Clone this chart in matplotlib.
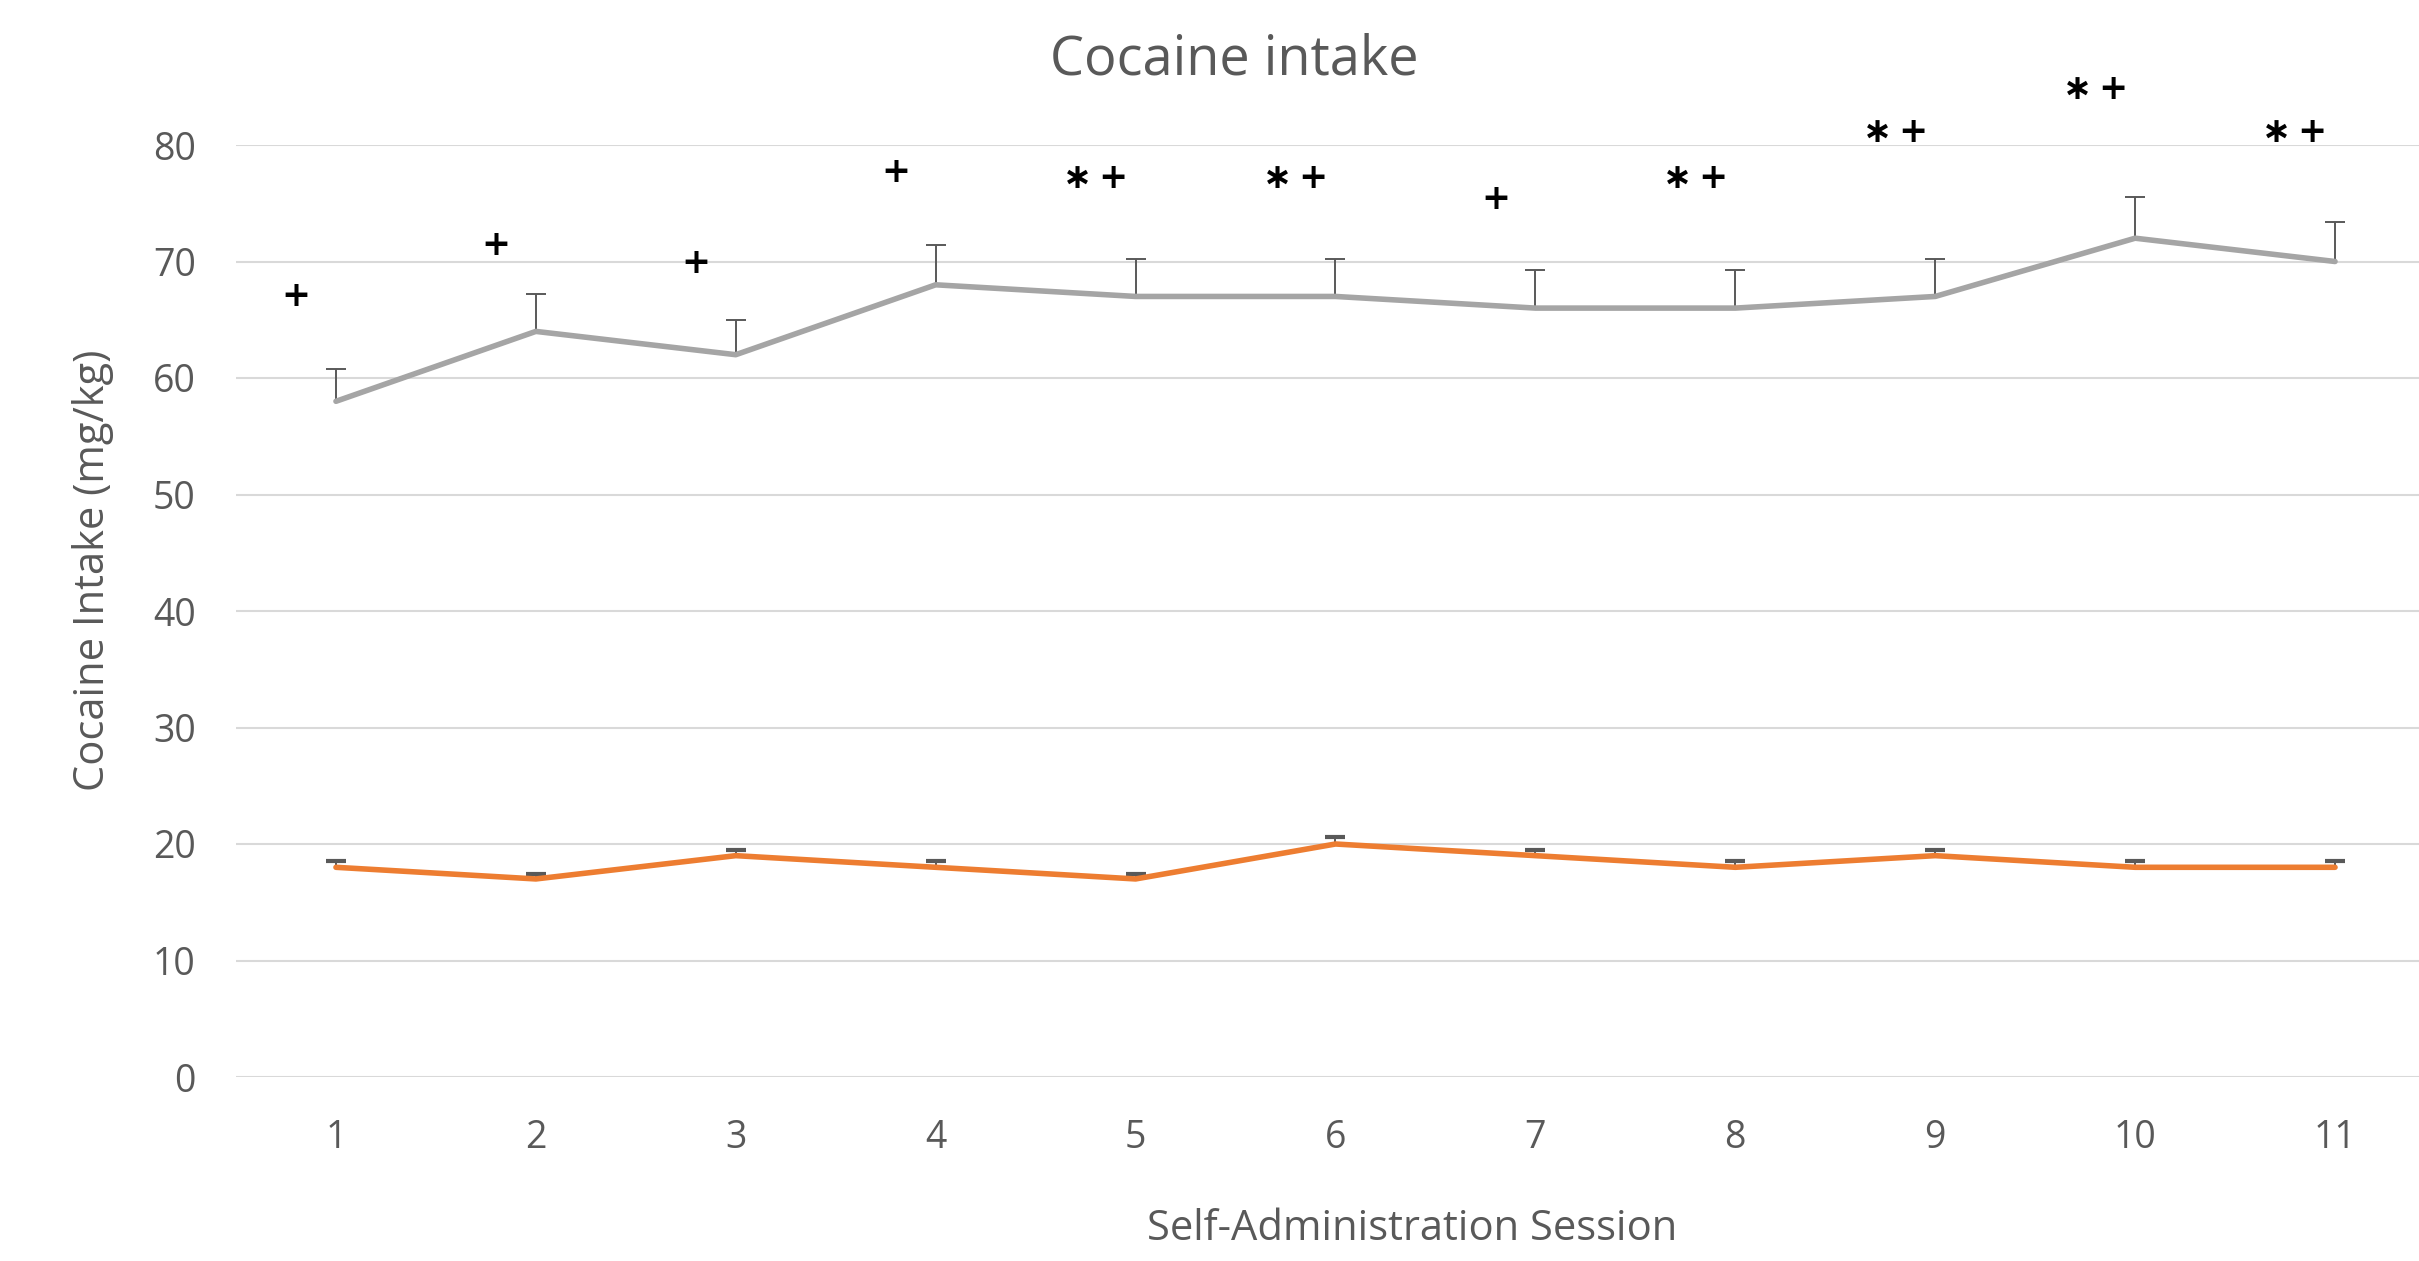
import matplotlib.pyplot as plt

# Data
sessions = [1, 2, 3, 4, 5, 6, 7, 8, 9, 10, 11]
gray_mean = [58, 64, 62, 68, 67, 67, 66, 66, 67, 72, 70]
gray_err = [2.8, 3.2, 3.0, 3.4, 3.2, 3.2, 3.3, 3.3, 3.2, 3.5, 3.4]
orange_mean = [18, 17, 19, 18, 17, 20, 19, 18, 19, 18, 18]
orange_err = [0.5, 0.4, 0.5, 0.5, 0.4, 0.6, 0.5, 0.5, 0.5, 0.5, 0.5]

# significance marks above each session
sig_labels = ["+", "+", "+", "+", "\u2217\u2009+", "\u2217\u2009+", "+",
              "\u2217\u2009+", "\u2217\u2009+", "\u2217\u2009+", "\u2217\u2009+"]
sig_y = [67.0, 71.4, 69.9, 77.7, 77.2, 77.2, 75.4, 77.2, 81.1, 84.8, 81.1]

W, H = 2419, 1261
fig = plt.figure(figsize=(W / 100, H / 100), dpi=100)
ax = fig.add_axes([236 / W, (H - 1077) / H, (W - 236) / W, (1077 - 145) / H])

font = "Open Sans"
text_color = "#595959"

for mean, err, col, ct in [(gray_mean, gray_err, "#A5A5A5", 1.4),
                           (orange_mean, orange_err, "#ED7D31", 3)]:
    line, caps, bars = ax.errorbar(sessions, mean, yerr=[[0] * 11, err], color=col,
                                   lw=4.0, ecolor="#595959", elinewidth=1.4,
                                   capsize=7, capthick=ct, zorder=3)
    line.set_solid_capstyle("round")
    line.set_solid_joinstyle("round")
    caps[0].set_visible(False)  # only the upper cap is shown

for x, lab, y in zip(sessions, sig_labels, sig_y):
    ax.text(x - 0.2, y, lab, ha="center", va="center", fontsize=25,
            fontweight="bold", color="black", family="DejaVu Sans", clip_on=False)

ax.set_xlim(0.5, 11.42)
ax.set_ylim(0, 80)
ax.set_yticks(range(0, 81, 10))
ax.set_xticks(sessions)
ax.grid(axis="y", color="#D9D9D9", lw=1.5)
ax.set_axisbelow(True)
for s in ax.spines.values():
    s.set_visible(False)
ax.tick_params(length=0, labelsize=27, labelcolor=text_color)
ax.tick_params(axis="x", pad=30)
ax.tick_params(axis="y", pad=29)
for lab in ax.get_xticklabels() + ax.get_yticklabels():
    lab.set_family(font)

fig.text(1234 / W, 1 - 60 / H, "Cocaine intake", ha="center", va="center",
         fontsize=39, color=text_color, family=font)
fig.text(1412 / W, 1 - 1229 / H, "Self-Administration Session", ha="center",
         va="center", fontsize=30, color=text_color, family=font)
fig.text(93 / W, 1 - 570 / H, "Cocaine Intake (mg/kg)", ha="center",
         va="center", rotation=90, fontsize=30, color=text_color, family=font)

fig.savefig("out.png", dpi=100)
